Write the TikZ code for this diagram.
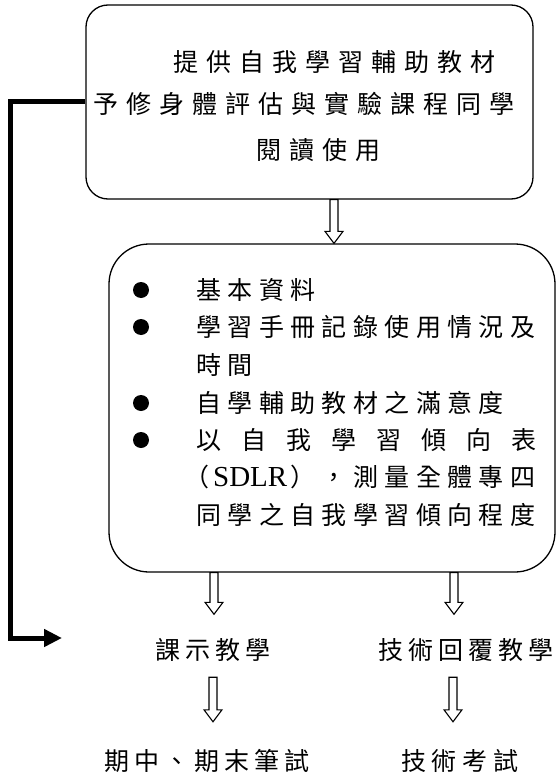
\documentclass[tikz,border=0pt]{standalone}
\usepackage{fontspec}
\setmainfont{Liberation Serif}
\newfontfamily\cjk{Noto Sans CJK TC}
\usetikzlibrary{arrows.meta,calc}
\makeatletter
\newcommand\cjsp[2]{\@tfor\cj@c:=#2\do{\makebox[#1]{\cj@c}}}
\makeatother
\newcommand\holarr[2]{\draw[holl] let \p1=(#1), \p2=(#2) in
  (\x1-4pt,\y1) -- (\x1-4pt,\y2+12pt) -- (\x1-9pt,\y2+12pt) -- (\x1,\y2)
  -- (\x1+9pt,\y2+12pt) -- (\x1+4pt,\y2+12pt) -- (\x1+4pt,\y1) -- cycle;}
\begin{document}
\begin{tikzpicture}[x=1pt,y=-1pt,
  box/.style={draw,line width=1.3pt,rounded corners=#1,inner sep=0pt},
  txt/.style={inner sep=0pt,font=\cjk\fontsize{25pt}{30pt}\selectfont,text height=22pt,text depth=3pt},
  bul/.style={circle,fill=black,inner sep=0pt,minimum size=16pt},
  holl/.style={draw=black,line width=1.1pt,fill=white,line join=miter},
  fbk/.style={line width=5pt,line join=miter,-{Triangle[length=18pt,width=17pt]}}]
\fill[white] (0,0) rectangle (557,778);
\useasboundingbox (0,0) rectangle (557,778);
% boxes
\node[box=22pt,minimum width=447pt,minimum height=194pt] (box1) at (309.5,102) {};
\node[box=40pt,minimum width=446pt,minimum height=328pt] (box2) at (332,408) {};
% top box text
\node[txt] (h1) at (334,62) {\cjsp{33pt}{提供自我學習輔助教材}};
\node[txt] (h2) at (304,104) {\cjsp{33pt}{予修身體評估與實驗課程同學}};
\node[txt] (h3) at (318,150) {\cjsp{33pt}{閱讀使用}};
% second box
\node[bul] (b1) at (141,290) {};
\node[bul] (b2) at (141,327) {};
\node[bul] (b3) at (141,403) {};
\node[bul] (b4) at (141,440) {};
\node[txt,anchor=west] (l1) at (192.8,290) {\cjsp{31.4pt}{基本資料}};
\node[txt,anchor=west] (l2) at (192.8,327) {\cjsp{31.4pt}{學習手冊記錄使用情況及}};
\node[txt,anchor=west] (l3) at (192.8,365) {\cjsp{31.4pt}{時間}};
\node[txt,anchor=west] (l4) at (192.8,403) {\cjsp{31.4pt}{自學輔助教材之滿意度}};
\node[txt,anchor=west] (l5) at (196,440) {\makebox[340pt]{以\hfill 自\hfill 我\hfill 學\hfill 習\hfill 傾\hfill 向\hfill 表}};
\node[txt,anchor=east] (l6) at (538.7,477) {\makebox[31.4pt]{（}{\rmfamily\fontsize{29pt}{30pt}\selectfont SDLR}\makebox[31.4pt]{）}\cjsp{31.4pt}{，測量全體專四}};
\node[txt,anchor=west] (l7) at (192.8,515) {\cjsp{31.4pt}{同學之自我學習傾向程度}};
% lower texts
\node[txt] (t1) at (213,650) {\cjsp{30pt}{課示教學}};
\node[txt] (t2) at (466,650) {\cjsp{30pt}{技術回覆教學}};
\node[txt] (t3) at (207,761) {\cjsp{30pt}{期中、期末筆試}};
\node[txt] (t4) at (460,761) {\cjsp{31pt}{技術考試}};
% arrow columns
\coordinate (ax1) at (334,0);
\coordinate (ax2) at (214,0);
\coordinate (ax3) at (454,0);
\coordinate (ax4) at (213,0);
\coordinate (ax5) at (453,0);
\coordinate (tip2) at ($(t1.north)+(0,-23)$);
\coordinate (tip3) at ($(t2.north)+(0,-23)$);
\coordinate (top4) at ($(t1.south)+(0,14.5)$);
\coordinate (top5) at ($(t2.south)+(0,14.5)$);
\coordinate (tip4) at ($(t3.north)+(0,-26.5)$);
\coordinate (tip5) at ($(t4.north)+(0,-26.5)$);
\holarr{box1.south -| ax1}{box2.north -| ax1}
\holarr{box2.south -| ax2}{tip2 -| ax2}
\holarr{box2.south -| ax3}{tip3 -| ax3}
\holarr{top4 -| ax4}{tip4 -| ax4}
\holarr{top5 -| ax5}{tip5 -| ax5}
% feedback line
\coordinate (lx) at (10,0);
\coordinate (fbend) at (62,638);
\draw[fbk] (box1.west) -- (box1.west -| lx) -- (lx |- fbend) -- (fbend);
\end{tikzpicture}
\end{document}
